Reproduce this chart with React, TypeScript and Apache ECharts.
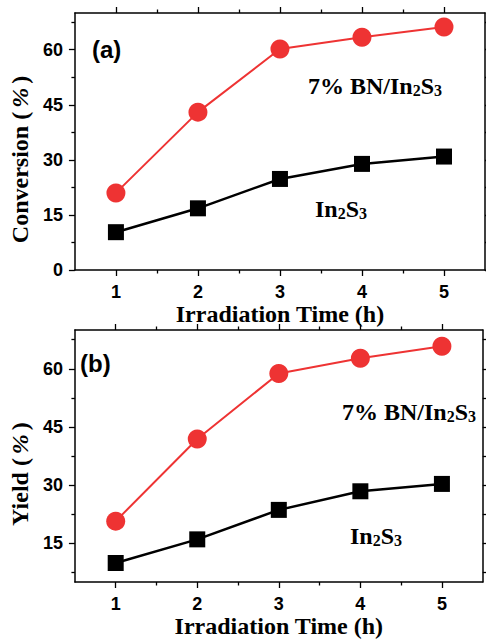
import React, { useEffect, useRef } from "react";
import * as echarts from "echarts";

const xValues = [1, 2, 3, 4, 5];
const conversionBN = [21.0, 43.0, 60.2, 63.4, 66.2];
const conversionIn = [10.3, 16.8, 24.8, 28.9, 30.9];
const yieldBN = [20.7, 41.9, 58.8, 62.7, 65.8];
const yieldIn = [9.9, 16.0, 23.6, 28.4, 30.3];

const xMajorTicks = [1, 2, 3, 4, 5];
const xMinorTicks = [1.5, 2.5, 3.5, 4.5];
const yMajorTicksA = [0, 15, 30, 45, 60];
const yMajorTicksB = [15, 30, 45, 60];
const yMinorTicks = [7.5, 22.5, 37.5, 52.5, 67.5];

const SANS = "'Liberation Sans', Arial, sans-serif";
const SERIF = "'Liberation Serif', 'Times New Roman', serif";
const RED = "#ee3333";

function xAxesFor(grid: number) {
  const base = {
    gridIndex: grid,
    type: "value",
    min: 0.5,
    max: 5.5,
    splitLine: { show: false },
  };
  const line = { show: true, onZero: false, lineStyle: { color: "#000", width: 1.5 } };
  const noLine = { show: false, onZero: false };
  return [
    {
      ...base,
      position: "bottom",
      axisLine: line,
      axisTick: { show: true, inside: false, length: 6, customValues: xMajorTicks, lineStyle: { color: "#000", width: 1.3 } },
      axisLabel: { show: true, customValues: xMajorTicks, margin: 13, fontSize: 18, fontWeight: "bold", color: "#000", fontFamily: SANS },
      name: "Irradiation Time (h)",
      nameLocation: "middle",
      nameGap: 32,
      nameTextStyle: { fontFamily: SERIF, fontWeight: "bold", fontSize: 24, color: "#000" },
    },
    {
      ...base,
      position: "bottom",
      axisLine: noLine,
      axisTick: { show: true, inside: false, length: 3.5, customValues: xMinorTicks, lineStyle: { color: "#000", width: 1.3 } },
      axisLabel: { show: false },
    },
    {
      ...base,
      position: "top",
      axisLine: line,
      axisTick: { show: true, inside: false, length: 6, customValues: xMajorTicks, lineStyle: { color: "#000", width: 1.3 } },
      axisLabel: { show: false },
    },
    {
      ...base,
      position: "top",
      axisLine: noLine,
      axisTick: { show: true, inside: false, length: 3.5, customValues: xMinorTicks, lineStyle: { color: "#000", width: 1.3 } },
      axisLabel: { show: false },
    },
  ];
}

function yAxesFor(grid: number, min: number, major: number[], title: string) {
  const base = {
    gridIndex: grid,
    type: "value",
    min,
    max: 70,
    splitLine: { show: false },
  };
  const line = { show: true, onZero: false, lineStyle: { color: "#000", width: 1.5 } };
  const noLine = { show: false, onZero: false };
  return [
    {
      ...base,
      position: "left",
      axisLine: line,
      axisTick: { show: true, inside: false, length: 6, customValues: major, lineStyle: { color: "#000", width: 1.3 } },
      axisLabel: { show: true, customValues: major, margin: 12, fontSize: 18, fontWeight: "bold", color: "#000", fontFamily: SANS },
      name: "{b|" + title + " (}{i|%}{b|)}",
      nameLocation: "middle",
      nameGap: 36,
      nameRotate: 90,
      nameTextStyle: {
        color: "#000",
        fontFamily: SERIF,
        fontWeight: "bold",
        fontSize: 24,
        padding: [0, 36, 0, 0],
        rich: {
          b: { fontFamily: SERIF, fontWeight: "bold", fontSize: 24, color: "#000" },
          i: { fontFamily: SERIF, fontStyle: "italic", fontSize: 24, color: "#000", padding: [0, 4, 0, 4] },
        },
      },
    },
    {
      ...base,
      position: "left",
      axisLine: noLine,
      axisTick: { show: true, inside: false, length: 3.5, customValues: yMinorTicks, lineStyle: { color: "#000", width: 1.3 } },
      axisLabel: { show: false },
    },
    {
      ...base,
      position: "right",
      axisLine: line,
      axisTick: { show: true, inside: false, length: 6, customValues: major, lineStyle: { color: "#000", width: 1.3 } },
      axisLabel: { show: false },
    },
    {
      ...base,
      position: "right",
      axisLine: noLine,
      axisTick: { show: true, inside: false, length: 3.5, customValues: yMinorTicks, lineStyle: { color: "#000", width: 1.3 } },
      axisLabel: { show: false },
    },
  ];
}

function pairs(ys: number[]) {
  return xValues.map((x, i) => [x, ys[i]]);
}

function seriesFor(xIdx: number, yIdx: number, bn: number[], ins: number[]) {
  return [
    {
      type: "line",
      xAxisIndex: xIdx,
      yAxisIndex: yIdx,
      data: pairs(ins),
      symbol: "rect",
      symbolSize: 16,
      itemStyle: { color: "#000" },
      lineStyle: { color: "#000", width: 2.5 },
    },
    {
      type: "line",
      xAxisIndex: xIdx,
      yAxisIndex: yIdx,
      data: pairs(bn),
      symbol: "circle",
      symbolSize: 19,
      itemStyle: { color: RED },
      lineStyle: { color: RED, width: 2 },
    },
  ];
}

const richLabel = {
  a: { fontFamily: SERIF, fontWeight: "bold", fontSize: 24, color: "#000", verticalAlign: "bottom", lineHeight: 26 },
  s: { fontFamily: SERIF, fontWeight: "bold", fontSize: 16, color: "#000", verticalAlign: "bottom", lineHeight: 26 },
};

function label(x: number, y: number, text: string) {
  return {
    type: "text",
    x,
    y,
    style: { text, rich: richLabel, verticalAlign: "bottom", align: "left" },
  };
}

export default function App() {
  const ref = useRef<HTMLDivElement>(null);
  useEffect(() => {
    if (!ref.current) return;
    const chart = echarts.init(ref.current, undefined, { renderer: "svg" });
    chart.setOption({
      animation: false,
      backgroundColor: "#fff",
      grid: [
        { left: 74, top: 13, right: 1, bottom: 369, containLabel: false },
        { left: 71, top: 330, right: 3.3, bottom: 52.3, containLabel: false },
      ],
      xAxis: [...xAxesFor(0), ...xAxesFor(1)],
      yAxis: [...yAxesFor(0, 0, yMajorTicksA, "Conversion"), ...yAxesFor(1, 5, yMajorTicksB, "Yield")],
      series: [...seriesFor(0, 0, conversionBN, conversionIn), ...seriesFor(4, 4, yieldBN, yieldIn)],
      graphic: [
        { type: "text", x: 92, y: 49, style: { text: "(a)", fontFamily: SANS, fontWeight: "bold", fontSize: 24, fill: "#000", verticalAlign: "middle" } },
        { type: "text", x: 80, y: 363, style: { text: "(b)", fontFamily: SANS, fontWeight: "bold", fontSize: 24, fill: "#000", verticalAlign: "middle" } },
        label(308, 98, "{a|7% BN/In}{s|2}{a|S}{s|3}"),
        label(315, 221, "{a|In}{s|2}{a|S}{s|3}"),
        label(342, 424, "{a|7% BN/In}{s|2}{a|S}{s|3}"),
        label(350, 548, "{a|In}{s|2}{a|S}{s|3}"),
      ],
    });
    return () => chart.dispose();
  }, []);
  return (
    <div
      ref={ref}
      style={{ position: "fixed", left: 0, top: 0, width: 486, height: 639, background: "#fff" }}
    />
  );
}
